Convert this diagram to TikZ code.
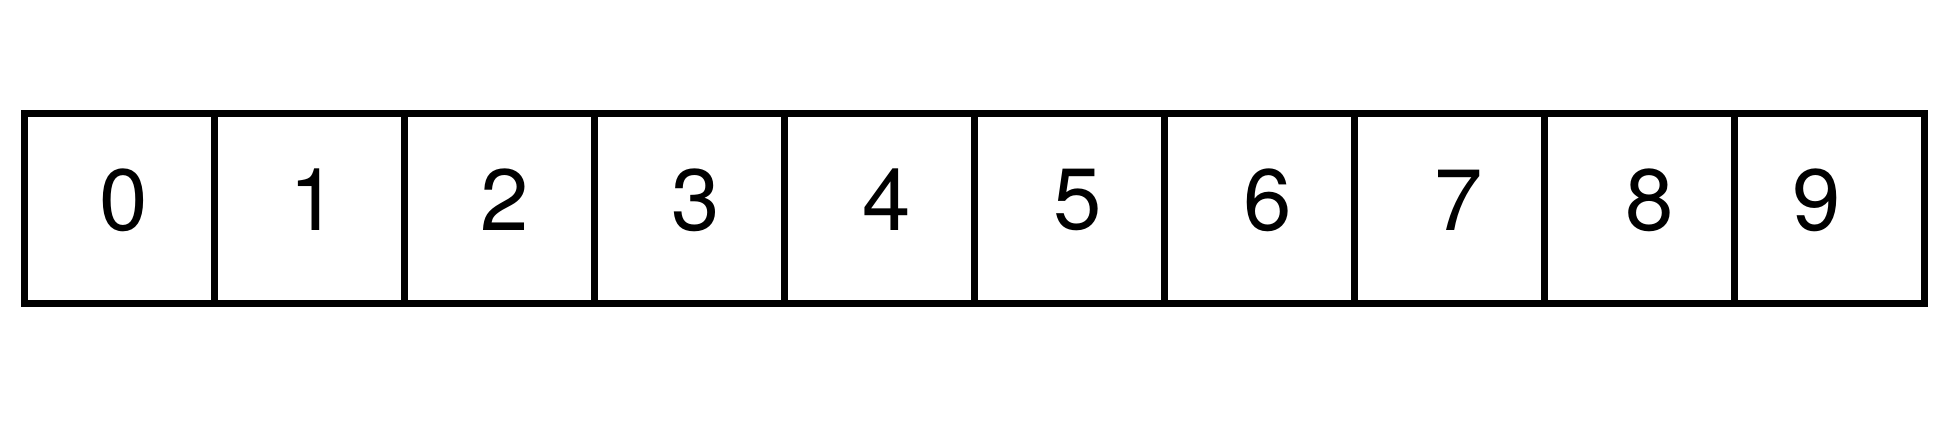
\documentclass[tikz,border=0pt]{standalone}
\usepackage{fontspec}
\setmainfont{TeX Gyre Heros}
\begin{document}
\begin{tikzpicture}[x=1pt,y=-1pt,
  cell/.style={draw=black,line width=7pt,minimum width=190pt,minimum height=190pt,inner sep=0pt,outer sep=0pt},
  digit/.style={inner sep=0pt,outer sep=0pt,font=\fontsize{87}{87}\selectfont}]
\useasboundingbox (0,0) rectangle (1950,437);
\foreach \i in {0,...,9}{
  \node[cell] (c\i) at ({119.5+190*\i},208) {};
}
\node[digit] (d0) at (124,200) {0};
\node[digit] (d1) at (314,200) {1};
\node[digit] (d2) at (505,200) {2};
\node[digit] (d3) at (696,200) {3};
\node[digit] (d4) at (887,200) {4};
\node[digit] (d5) at (1078,200) {5};
\node[digit] (d6) at (1268,200) {6};
\node[digit] (d7) at (1459,200) {7};
\node[digit] (d8) at (1650,200) {8};
\node[digit] (d9) at (1817,200) {9};
\end{tikzpicture}
\end{document}
